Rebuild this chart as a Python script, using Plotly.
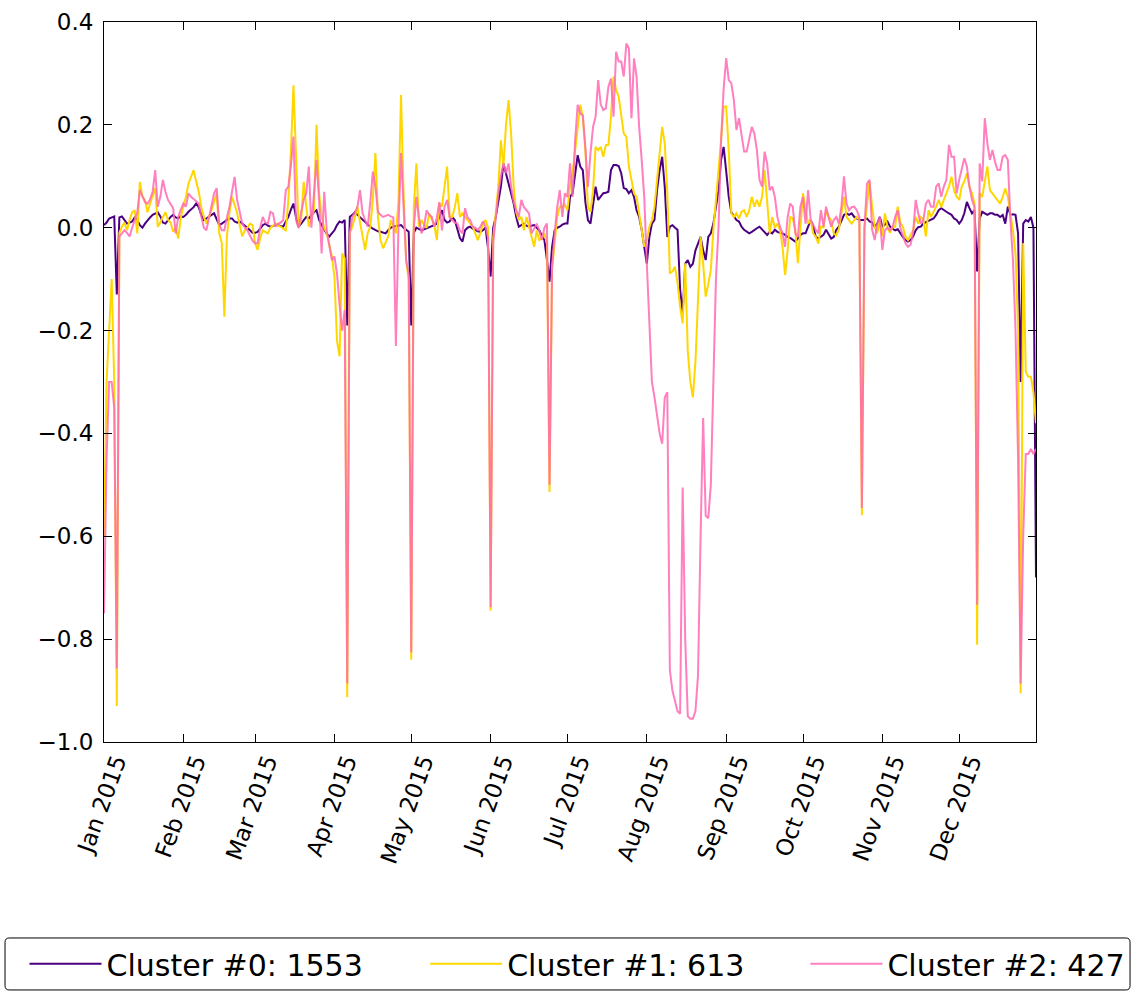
import pandas as pd
import plotly.graph_objects as go

# Daily index for 2015
dates = pd.date_range("2015-01-01", "2015-12-31", freq="D")

legend_names = ["Cluster #0: 1553", "Cluster #1: 613", "Cluster #2: 427"]
line_colors = ["#4B0082", "#FFD700", "#FF69B4"]

# One row per month (Jan ... Dec)
cluster0 = [
    0.005, 0.01, 0.018, 0.02, 0.022, -0.13, 0.02, 0.022, 0.015, 0.008, 0.01, 0.012, 0.02, 0.015, 0.005, 0.0, 0.008, 0.015, 0.02, 0.025, 0.028, 0.03, 0.022, 0.01, 0.008, 0.015, 0.021, 0.025, 0.02, 0.018, 0.022,
    0.021, 0.025, 0.031, 0.035, 0.04, 0.047, 0.04, 0.025, 0.015, 0.018, 0.022, 0.025, 0.028, 0.015, 0.005, 0.008, 0.012, 0.015, 0.018, 0.018, 0.012, 0.01, 0.012, 0.008, 0.005, 0.0, -0.005, -0.01,
    -0.01, -0.008, -0.002, 0.005, 0.008, 0.004, 0.002, 0.003, 0.006, 0.005, 0.003, 0.002, 0.012, 0.021, 0.035, 0.047, 0.021, 0.002, 0.008, 0.015, 0.021, 0.018, 0.025, 0.03, 0.034, 0.015, 0.005, -0.005, -0.012, -0.017, -0.01,
    -0.005, 0.005, 0.012, 0.01, 0.015, -0.19, 0.021, 0.025, 0.03, 0.025, 0.02, 0.015, 0.01, 0.005, 0.002, -0.002, -0.005, -0.007, -0.008, -0.01, -0.011, -0.005, 0.0, 0.002, 0.003, 0.005, 0.005, 0.0, -0.005, -0.008,
    -0.19, -0.01, 0.0, -0.002, -0.005, -0.003, -0.001, 0.0, 0.002, 0.005, 0.008, 0.02, 0.034, 0.015, 0.01, 0.012, 0.021, 0.015, -0.005, -0.02, -0.027, -0.005, 0.0, 0.002, -0.002, -0.005, -0.007, -0.008, -0.005, 0.0, -0.04,
    -0.095, 0.0, 0.021, 0.054, 0.08, 0.125, 0.106, 0.09, 0.067, 0.047, 0.021, 0.002, 0.005, 0.008, 0.004, 0.002, 0.004, 0.005, 0.0, -0.005, -0.015, -0.024, -0.063, -0.105, -0.037, -0.005, 0.0, 0.002, 0.006, 0.008,
    0.008, 0.06, 0.067, 0.1, 0.141, 0.119, 0.112, 0.05, 0.015, 0.008, 0.05, 0.08, 0.054, 0.06, 0.067, 0.068, 0.07, 0.112, 0.122, 0.122, 0.12, 0.106, 0.077, 0.075, 0.067, 0.073, 0.06, 0.034, 0.021, -0.004, -0.037,
    -0.07, -0.018, 0.008, 0.015, 0.073, 0.112, 0.138, 0.08, -0.018, 0.002, 0.005, 0.0, -0.004, -0.12, -0.167, -0.07, -0.063, -0.076, -0.07, -0.044, -0.031, -0.018, -0.044, -0.063, -0.018, -0.011, 0.008, 0.04, 0.073, 0.132, 0.157,
    0.11, 0.06, 0.03, 0.021, 0.015, 0.012, 0.002, -0.004, -0.008, -0.011, -0.008, -0.004, -0.001, 0.002, -0.004, -0.008, -0.014, -0.008, -0.011, -0.004, -0.008, -0.01, -0.011, -0.014, -0.018, -0.02, -0.024, -0.027, -0.021, -0.014,
    -0.011, -0.011, 0.002, 0.015, 0.002, -0.018, -0.021, -0.018, -0.014, -0.004, -0.014, -0.021, -0.018, -0.004, 0.002, 0.015, 0.025, 0.028, 0.025, 0.028, 0.021, 0.018, 0.015, 0.015, 0.015, 0.018, 0.012, 0.01, 0.002, 0.008, 0.021,
    0.002, 0.006, 0.012, 0.002, -0.002, -0.005, -0.003, -0.011, -0.018, -0.024, -0.027, -0.024, -0.017, -0.005, 0.001, 0.002, 0.008, 0.011, 0.013, 0.015, 0.018, 0.025, 0.034, 0.038, 0.034, 0.031, 0.028, 0.025, 0.018, 0.015,
    0.008, 0.015, 0.028, 0.05, 0.038, 0.028, 0.034, -0.085, 0.018, 0.031, 0.028, 0.025, 0.028, 0.028, 0.025, 0.025, 0.021, 0.025, 0.008, 0.041, 0.025, 0.026, 0.025, -0.011, -0.30, 0.008, 0.015, 0.012, 0.021, 0.0, -0.68,
]

cluster1 = [
    -0.6, -0.3, -0.2, -0.1, -0.3, -0.93, -0.01, 0.002, 0.01, -0.005, 0.015, 0.03, 0.034, -0.011, 0.089, 0.06, 0.054, 0.03, 0.047, 0.06, 0.077, 0.002, 0.01, 0.021, 0.03, 0.015, 0.01, -0.008, 0.0, -0.021, 0.02,
    0.041, 0.06, 0.086, 0.1, 0.112, 0.09, 0.07, 0.04, 0.021, 0.008, 0.02, 0.034, 0.05, 0.067, -0.011, -0.03, -0.173, -0.017, 0.03, 0.06, 0.045, 0.028, 0.005, -0.017, -0.005, 0.0, 0.008, 0.005,
    -0.03, -0.043, -0.02, -0.005, -0.008, -0.011, 0.0, 0.005, 0.008, 0.004, 0.002, -0.002, -0.005, 0.054, 0.15, 0.277, 0.132, 0.002, 0.015, 0.089, 0.041, 0.002, 0.02, 0.034, 0.2, 0.067, 0.021, 0.0, -0.011, -0.037, -0.056,
    -0.095, -0.22, -0.25, -0.05, -0.06, -0.913, -0.01, 0.002, 0.021, 0.041, 0.01, -0.017, -0.043, -0.01, 0.002, 0.054, 0.145, 0.021, -0.024, -0.04, -0.03, -0.017, 0.015, 0.0, -0.011, 0.05, 0.258, 0.067, -0.063, -0.1,
    -0.84, 0.04, 0.125, 0.002, 0.015, 0.005, 0.0, 0.028, 0.015, 0.005, -0.024, 0.047, 0.041, 0.08, 0.119, 0.021, 0.021, 0.04, 0.067, 0.021, 0.028, 0.021, 0.015, 0.008, 0.002, -0.011, -0.024, -0.01, 0.008, 0.015, 0.0,
    -0.745, -0.02, 0.028, 0.08, 0.17, 0.119, 0.2, 0.248, 0.183, 0.08, 0.03, 0.015, 0.021, -0.005, 0.021, 0.0, -0.017, -0.037, -0.005, -0.024, -0.02, -0.011, -0.03, -0.514, -0.08, -0.024, 0.021, 0.041, 0.04, 0.045,
    0.034, 0.08, 0.106, 0.15, 0.19, 0.239, 0.216, 0.15, 0.041, 0.031, 0.073, 0.157, 0.151, 0.157, 0.138, 0.161, 0.161, 0.216, 0.294, 0.268, 0.255, 0.216, 0.183, 0.177, 0.119, 0.093, 0.067, 0.06, 0.028, -0.004, -0.037,
    -0.025, 0.002, 0.015, 0.041, 0.093, 0.138, 0.196, 0.164, 0.07, -0.089, -0.085, -0.076, -0.108, -0.154, -0.186, -0.069, -0.24, -0.3, -0.33, -0.26, -0.12, -0.018, -0.07, -0.134, -0.11, -0.082, -0.004, 0.05, 0.112, 0.17, 0.235,
    0.236, 0.15, 0.028, 0.021, 0.028, 0.018, 0.031, 0.034, 0.021, 0.034, 0.06, 0.041, 0.054, 0.041, 0.06, 0.112, 0.05, -0.011, 0.021, 0.0, 0.008, -0.004, -0.037, -0.092, -0.044, 0.021, 0.018, -0.004, -0.069, -0.004,
    0.067, 0.034, 0.008, 0.015, -0.011, -0.018, -0.031, 0.002, 0.0, 0.034, 0.021, 0.015, -0.011, -0.015, -0.004, 0.028, 0.06, 0.021, 0.015, 0.008, 0.015, 0.021, 0.015, -0.559, 0.0, 0.05, 0.09, 0.041, 0.002, -0.011, 0.015,
    -0.017, 0.028, 0.0, -0.01, 0.002, 0.002, 0.041, 0.01, 0.002, -0.017, -0.024, -0.015, -0.005, 0.021, 0.008, 0.021, 0.015, -0.017, 0.034, 0.021, 0.03, 0.041, 0.054, 0.04, 0.054, 0.067, 0.08, 0.099, 0.073, 0.06,
    0.054, 0.08, 0.09, 0.106, 0.08, 0.067, 0.047, -0.811, 0.067, 0.06, 0.093, 0.119, 0.073, 0.067, 0.06, 0.054, 0.047, 0.06, 0.076, 0.06, 0.028, -0.005, -0.05, -0.2, -0.905, -0.03, -0.28, -0.29, -0.29, -0.32, -0.38,
]

cluster2 = [
    -0.75, -0.45, -0.3, -0.3, -0.35, -0.857, -0.017, -0.01, -0.005, -0.01, -0.017, 0.0, 0.015, 0.03, 0.073, 0.06, 0.05, 0.047, 0.055, 0.07, 0.112, 0.041, 0.06, 0.093, 0.07, 0.054, 0.045, 0.038, -0.011, 0.021, 0.035,
    0.047, 0.041, 0.067, 0.06, 0.055, 0.05, 0.047, 0.021, 0.0, -0.005, 0.02, 0.04, 0.067, 0.077, 0.008, -0.005, -0.005, 0.02, 0.041, 0.07, 0.099, 0.054, 0.03, 0.008, 0.0, -0.005, -0.015, -0.025,
    -0.03, -0.03, 0.0, 0.021, 0.01, 0.008, 0.031, 0.028, 0.002, 0.008, 0.01, 0.015, 0.073, 0.08, 0.12, 0.177, 0.015, -0.001, 0.03, 0.054, 0.067, 0.119, 0.0, 0.067, 0.132, 0.054, -0.05, 0.07, -0.005, -0.035, -0.063,
    -0.056, -0.089, -0.15, -0.2, -0.16, -0.886, -0.01, 0.021, 0.03, 0.041, 0.073, 0.028, 0.015, 0.002, 0.05, 0.109, 0.08, 0.031, 0.025, 0.021, 0.023, 0.025, 0.022, 0.02, -0.23, 0.0, 0.145, 0.047, -0.063, -0.09,
    -0.826, 0.0, 0.06, 0.02, -0.011, 0.002, 0.034, 0.025, 0.021, 0.002, 0.02, 0.05, -0.005, 0.041, 0.054, 0.02, 0.015, 0.01, 0.008, -0.005, -0.011, 0.038, 0.02, 0.015, 0.002, 0.0, -0.005, 0.002, 0.012, 0.002, -0.02,
    -0.738, -0.03, 0.021, 0.067, 0.1, 0.125, 0.106, 0.125, 0.08, 0.05, 0.034, 0.021, 0.054, 0.04, 0.034, 0.028, -0.011, 0.0, 0.008, -0.005, -0.024, 0.0, 0.008, -0.5, -0.076, -0.011, 0.04, 0.073, 0.021, 0.067,
    0.06, 0.125, 0.06, 0.17, 0.239, 0.222, 0.219, 0.157, 0.08, 0.145, 0.196, 0.216, 0.287, 0.24, 0.229, 0.232, 0.274, 0.29, 0.216, 0.342, 0.323, 0.323, 0.294, 0.358, 0.349, 0.213, 0.329, 0.294, 0.196, 0.132, 0.06,
    -0.069, -0.2, -0.3, -0.33, -0.37, -0.4, -0.42, -0.33, -0.32, -0.86, -0.9, -0.92, -0.94, -0.945, -0.505, -0.8, -0.95, -0.955, -0.955, -0.94, -0.87, -0.6, -0.37, -0.56, -0.565, -0.5, -0.3, -0.1, 0.0, 0.17, 0.27,
    0.33, 0.287, 0.281, 0.248, 0.19, 0.213, 0.183, 0.148, 0.148, 0.17, 0.196, 0.183, 0.151, 0.093, 0.08, 0.148, 0.125, 0.073, 0.08, 0.06, 0.021, 0.002, -0.011, -0.037, 0.021, 0.047, 0.041, -0.011, -0.018, 0.041,
    0.06, 0.008, 0.073, 0.015, 0.005, -0.004, -0.011, 0.034, 0.002, 0.041, 0.021, 0.002, 0.015, 0.021, 0.008, 0.041, 0.1, 0.047, 0.034, 0.04, 0.041, 0.034, 0.021, -0.545, 0.0, 0.086, 0.093, -0.004, -0.024, 0.008, 0.021,
    -0.043, -0.005, 0.0, -0.005, 0.002, 0.021, 0.034, 0.0, -0.015, -0.03, -0.037, -0.033, -0.011, 0.054, 0.028, 0.008, 0.015, 0.047, 0.054, 0.041, 0.041, 0.08, 0.086, 0.06, 0.08, 0.093, 0.161, 0.138, 0.138, 0.067,
    0.093, 0.112, 0.135, 0.119, 0.08, 0.054, 0.04, -0.733, 0.125, 0.09, 0.213, 0.164, 0.132, 0.151, 0.128, 0.112, 0.112, 0.138, 0.141, 0.132, 0.015, -0.063, -0.2, -0.45, -0.886, -0.6, -0.44, -0.44, -0.43, -0.44, -0.43,
]

series = [cluster0, cluster1, cluster2]
for s in series:
    if len(s) != len(dates):
        raise ValueError(f"expected {len(dates)} values, got {len(s)}")

FONT = "DejaVu Sans"
legend_ids = ["legend", "legend2", "legend3"]
legend_x = [-0.0853, 0.3446, 0.7526]   # paper x of each legend entry

fig = go.Figure()
for name, values, color, lid in zip(legend_names, series, line_colors, legend_ids):
    fig.add_trace(go.Scatter(
        x=dates, y=values, mode="lines", name=name, legend=lid,
        line=dict(color=color, width=2),
        opacity=0.85 if color == "#FF69B4" else 1.0,
    ))

axis_common = dict(
    showline=True, linecolor="black", linewidth=1, mirror="allticks",
    ticks="inside", ticklen=8, tickwidth=1, tickcolor="black",
    showgrid=False, zeroline=False,
    tickfont=dict(family=FONT, size=23, color="black"),
)

legend_common = dict(
    orientation="h", xanchor="left", y=-0.272, yanchor="top",
    borderwidth=0, bgcolor="rgba(0,0,0,0)",
    font=dict(family=FONT, size=30, color="black"),
    itemwidth=72,
)

fig.update_layout(
    width=1132, height=992,
    margin=dict(l=104, r=96, t=22, b=250, autoexpand=False),
    paper_bgcolor="white", plot_bgcolor="white",
    font=dict(family=FONT, color="black"),
    xaxis=dict(
        type="date", range=["2015-01-01", "2015-12-31"],
        tick0="2015-01-01", dtick="M1", tickformat="%b %Y",
        tickangle=-70, ticklabelshift=12, ticklabelstandoff=-4,
        **axis_common,
    ),
    yaxis=dict(
        range=[-1.0, 0.4], tick0=-1.0, dtick=0.2, tickformat=".1f",
        ticklabelstandoff=5,
        **axis_common,
    ),
    legend=dict(x=legend_x[0], **legend_common),
    legend2=dict(x=legend_x[1], **legend_common),
    legend3=dict(x=legend_x[2], **legend_common),
    showlegend=True,
)

# Frame around the legend row (rounded corners)
x0, x1, y0, y1 = -0.1062, 1.1009, -0.3444, -0.2722
rx, ry = 0.0045, 0.006
frame_path = (
    f"M{x0 + rx},{y1} L{x1 - rx},{y1} Q{x1},{y1} {x1},{y1 - ry} "
    f"L{x1},{y0 + ry} Q{x1},{y0} {x1 - rx},{y0} L{x0 + rx},{y0} "
    f"Q{x0},{y0} {x0},{y0 + ry} L{x0},{y1 - ry} Q{x0},{y1} {x0 + rx},{y1} Z"
)
fig.add_shape(type="path", path=frame_path, xref="paper", yref="paper",
              line=dict(color="black", width=1), layer="above")

fig.write_html("out.html")
